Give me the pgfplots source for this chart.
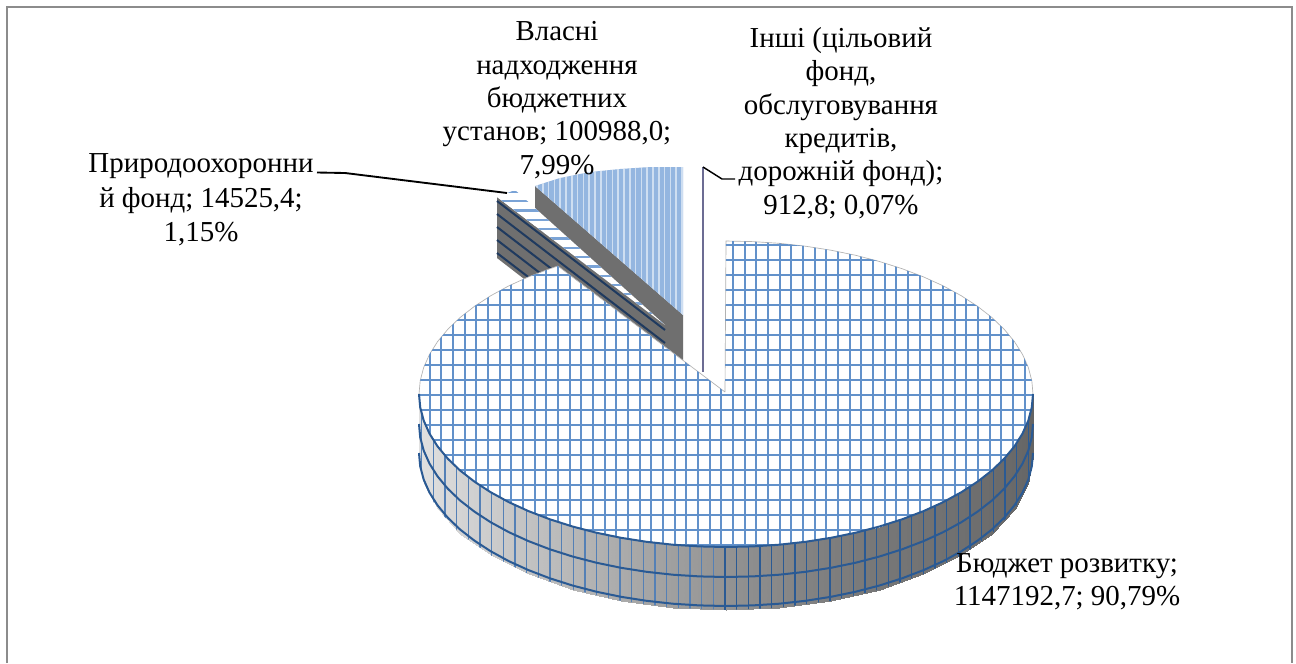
\documentclass[border=0pt]{standalone}
\usepackage{fontspec}
\setmainfont{Liberation Serif}
\usepackage{pgfplots}
\usepackage{pgfplotstable}
\pgfplotsset{compat=1.18}
\definecolor{gridblue}{HTML}{6291CA}
\definecolor{barblue}{HTML}{7AA3D6}
\definecolor{wallblue}{HTML}{2A5A94}
\definecolor{wallsoft}{HTML}{5480B6}
\definecolor{walldark}{HTML}{6F6F6F}
\definecolor{linedark}{HTML}{1F3A5F}
\definecolor{pale}{HTML}{94B6E0}
\definecolor{framegray}{HTML}{8C8C8C}
\tikzset{lab/.style={font=\fontsize{21.7bp}{25bp}\selectfont, align=center, inner sep=0pt, text=black}}
\pgfplotsset{clipped/.style={execute at begin plot visualization={\scope #1}, execute at end plot visualization={\endscope}}}

% outlines used to clip the hatching
\newcommand\cliptop{\clip (725,392) -- (726,241) -- (752.8,241.6) -- (779.3,243.3) -- (805.5,246.2) -- (831,250.2) -- (855.7,255.3) -- (879.5,261.5) -- (902.1,268.7) -- (923.3,276.8) -- (943.1,285.8) -- (961.2,295.7) -- (977.5,306.3) -- (991.9,317.5) -- (1004.2,329.3) -- (1014.5,341.7) -- (1022.5,354.4) -- (1028.3,367.4) -- (1031.8,380.7) -- (1033,394) -- (1031.8,407.3) -- (1028.3,420.6) -- (1022.5,433.6) -- (1014.5,446.3) -- (1004.2,458.7) -- (991.9,470.5) -- (977.5,481.7) -- (961.2,492.3) -- (943.1,502.2) -- (923.3,511.2) -- (902.1,519.3) -- (879.5,526.5) -- (855.7,532.7) -- (831,537.8) -- (805.5,541.8) -- (779.3,544.7) -- (752.8,546.4) -- (726,547) -- (699.2,546.4) -- (672.7,544.7) -- (646.5,541.8) -- (621,537.8) -- (596.3,532.7) -- (572.5,526.5) -- (549.9,519.3) -- (528.7,511.2) -- (508.9,502.2) -- (490.8,492.3) -- (474.5,481.7) -- (460.1,470.5) -- (447.8,458.7) -- (437.5,446.3) -- (429.5,433.6) -- (423.7,420.6) -- (420.2,407.3) -- (419,394) -- (420.2,380.7) -- (423.7,367.4) -- (429.5,354.4) -- (437.5,341.7) -- (447.8,329.3) -- (460.1,317.5) -- (474.5,306.3) -- (490.8,295.7) -- (508.9,285.8) -- (528.7,276.8) -- (549.9,268.7) -- (557.8,266) -- cycle;}
\newcommand\clipwall{\clip (1033,394) -- (1028.3,420.6) -- (1014.5,446.3) -- (991.9,470.5) -- (961.2,492.3) -- (923.3,511.2) -- (879.5,526.5) -- (831,537.8) -- (779.3,544.7) -- (726,547) -- (672.7,544.7) -- (621,537.8) -- (572.5,526.5) -- (528.7,511.2) -- (490.8,492.3) -- (460.1,470.5) -- (437.5,446.3) -- (423.7,420.6) -- (419,394) -- (419,457) -- (423.7,483.6) -- (437.5,509.3) -- (460.1,533.5) -- (490.8,555.3) -- (528.7,574.2) -- (572.5,589.5) -- (621,600.8) -- (672.7,607.7) -- (726,610) -- (779.3,607.7) -- (831,600.8) -- (879.5,589.5) -- (923.3,574.2) -- (961.2,555.3) -- (991.9,533.5) -- (1014.5,509.3) -- (1028.3,483.6) -- (1033,457) -- cycle;}
\newcommand\clippale{\clip (535,186) -- (560,178) -- (590,172) -- (620,169) -- (650,167) -- (683,167) -- (683,315) -- cycle;}
\newcommand\clipbars{\clip (497,197) -- (515,190) -- (665,325) -- cycle;}

% main slice, top face
\pgfplotstableread{
x y
725 392
726 241
752.8 241.6
779.3 243.3
805.5 246.2
831 250.2
855.7 255.3
879.5 261.5
902.1 268.7
923.3 276.8
943.1 285.8
961.2 295.7
977.5 306.3
991.9 317.5
1004.2 329.3
1014.5 341.7
1022.5 354.4
1028.3 367.4
1031.8 380.7
1033 394
1031.8 407.3
1028.3 420.6
1022.5 433.6
1014.5 446.3
1004.2 458.7
991.9 470.5
977.5 481.7
961.2 492.3
943.1 502.2
923.3 511.2
902.1 519.3
879.5 526.5
855.7 532.7
831 537.8
805.5 541.8
779.3 544.7
752.8 546.4
726 547
699.2 546.4
672.7 544.7
646.5 541.8
621 537.8
596.3 532.7
572.5 526.5
549.9 519.3
528.7 511.2
508.9 502.2
490.8 492.3
474.5 481.7
460.1 470.5
447.8 458.7
437.5 446.3
429.5 433.6
423.7 420.6
420.2 407.3
419 394
420.2 380.7
423.7 367.4
429.5 354.4
437.5 341.7
447.8 329.3
460.1 317.5
474.5 306.3
490.8 295.7
508.9 285.8
528.7 276.8
549.9 268.7
557.8 266
725 392
}\maintop

% rim of the main slice: top edge, two bent lines
\pgfplotstableread{
x top mid low
1033 394 424 453
1031.8 407.3 437.3 466.3
1028.3 420.6 450.6 479.6
1022.5 433.6 463.6 492.6
1014.5 446.3 476.3 505.3
1004.2 458.7 488.7 517.7
991.9 470.5 500.5 529.5
977.5 481.7 511.7 540.7
961.2 492.3 522.3 551.3
943.1 502.2 532.2 561.2
923.3 511.2 541.2 570.2
902.1 519.3 549.3 578.3
879.5 526.5 556.5 585.5
855.7 532.7 562.7 591.7
831 537.8 567.8 596.8
805.5 541.8 571.8 600.8
779.3 544.7 574.7 603.7
752.8 546.4 576.4 605.4
726 547 577 606
699.2 546.4 576.4 605.4
672.7 544.7 574.7 603.7
646.5 541.8 571.8 600.8
621 537.8 567.8 596.8
596.3 532.7 562.7 591.7
572.5 526.5 556.5 585.5
549.9 519.3 549.3 578.3
528.7 511.2 541.2 570.2
508.9 502.2 532.2 561.2
490.8 492.3 522.3 551.3
474.5 481.7 511.7 540.7
460.1 470.5 500.5 529.5
447.8 458.7 488.7 517.7
437.5 446.3 476.3 505.3
429.5 433.6 463.6 492.6
423.7 420.6 450.6 479.6
420.2 407.3 437.3 466.3
419 394 424 453
}\rim

\begin{document}
\begin{tikzpicture}
\begin{axis}[
  width=972bp, height=497.25bp, scale only axis,
  xmin=0, xmax=1296, ymin=0, ymax=663, y dir=reverse,
  hide axis, clip=false,
  colormap={greys}{rgb255(0cm)=(0,0,0); rgb255(1cm)=(255,255,255)},
  point meta min=0, point meta max=255,
  every axis plot/.append style={forget plot},
]
% page background and frame
\addplot[fill=white, draw=none] coordinates {(0,0) (1296,0) (1296,663) (0,663) (0,0)};
\addplot[draw=framegray, line width=1.5bp] coordinates {(7,663) (7,7) (1292,7) (1292,663)};

% own revenues slice
\addplot[fill=walldark, draw=none] coordinates {(535,186) (683,315) (683,378) (535,249) (535,186)};
\addplot[fill=pale, draw=none] coordinates {(535,186) (560,178) (590,172) (620,169) (650,167) (683,167) (683,315) (535,186)};
\addplot[ycomb, draw=white, opacity=0.55, line width=1.1bp, clipped=\clippale] coordinates {
(537,330) (542.8,330) (548.6,330) (554.4,330) (560.2,330) (566,330) (571.8,330) (577.6,330) (583.4,330) (589.2,330) (595,330) (600.8,330) (606.6,330) (612.4,330) (618.2,330) (624,330) (629.8,330) (635.6,330) (641.4,330) (647.2,330) (653,330) (658.8,330) (664.6,330) (670.4,330) (676.2,330) (682,330)};

% nature fund slice
\addplot[fill=walldark, draw=none] coordinates {(497,197) (665,325) (665,388) (497,258) (497,197)};
\addplot[draw=linedark, line width=1.5bp] coordinates {(497,201) (665,330)};
\addplot[draw=linedark, line width=1.5bp] coordinates {(497,214) (665,343)};
\addplot[draw=linedark, line width=1.5bp] coordinates {(497,227) (665,356)};
\addplot[draw=linedark, line width=1.5bp] coordinates {(497,240) (665,369)};
\addplot[draw=linedark, line width=1.5bp] coordinates {(497,253) (665,382)};
\addplot[fill=white, draw=none] coordinates {(497,197) (515,190) (665,325) (497,197)};
\addplot[xcomb, draw=barblue, line width=1.7bp, clipped=\clipbars] coordinates {
(700,192) (700,201.3) (700,210.6) (700,219.9) (700,229.2) (700,238.5) (700,247.8) (700,257.1) (700,266.4) (700,275.7) (700,285) (700,294.3) (700,303.6) (700,312.9) (700,322.2)};

% other slice, almost nothing
\addplot[draw=gray!85!blue, line width=1.2bp] coordinates {(703,167) (703,372)};

% main slice rim
\addplot[surf, shader=interp, mesh/rows=2, point meta=explicit] table[meta=g] {
x y g
1033 394 100
1028.3 420.6 102
1014.5 446.3 105
991.9 470.5 108
961.2 492.3 112
923.3 511.2 115
879.5 526.5 119
831 537.8 126
779.3 544.7 136
726 547 147
672.7 544.7 159
621 537.8 171
572.5 526.5 183
528.7 511.2 194
490.8 492.3 204
460.1 470.5 212
437.5 446.3 219
423.7 420.6 223
419 394 225
1033 457 100
1028.3 483.6 102
1014.5 509.3 105
991.9 533.5 108
961.2 555.3 112
923.3 574.2 115
879.5 589.5 119
831 600.8 126
779.3 607.7 136
726 610 147
672.7 607.7 159
621 600.8 171
572.5 589.5 183
528.7 574.2 194
490.8 555.3 204
460.1 533.5 212
437.5 509.3 219
423.7 483.6 223
419 457 225
};
\addplot[ycomb, draw=wallsoft, line width=1.2bp, clipped=\clipwall] coordinates {
(421.67,620) (433.33,620) (445,620) (456.67,620) (468.33,620) (480,620) (491.67,620) (503.33,620) (515,620) (526.67,620) (538.33,620) (550,620) (561.67,620) (573.33,620) (585,620) (596.67,620) (608.33,620) (620,620) (631.67,620) (643.33,620) (655,620) (666.67,620) (678.33,620) (690,620) (701.67,620) (713.33,620)};
\addplot[ycomb, draw=wallblue, line width=1.2bp, clipped=\clipwall] coordinates {
(725,620) (736.67,620) (748.33,620) (760,620) (771.67,620) (783.33,620) (795,620) (806.67,620) (818.33,620) (830,620) (841.67,620) (853.33,620) (865,620) (876.67,620) (888.33,620) (900,620) (911.67,620) (923.33,620) (935,620) (946.67,620) (958.33,620) (970,620) (981.67,620) (993.33,620) (1005,620) (1016.67,620) (1028.33,620)};
\addplot[draw=wallblue, line width=1.5bp] table[x=x, y=mid] {\rim};
\addplot[draw=wallblue, line width=1.5bp] table[x=x, y=low] {\rim};

% main slice, top face
\addplot[fill=white, draw=gray!60, line width=0.5bp] table[x=x, y=y] {\maintop};
\addplot[ycomb, draw=gridblue, line width=1.4bp, clipped=\cliptop] coordinates {
(418,560) (429.67,560) (441.33,560) (453,560) (464.67,560) (476.33,560) (488,560) (499.67,560) (511.33,560) (523,560) (534.67,560) (546.33,560) (558,560) (569.67,560) (581.33,560) (593,560) (604.67,560) (616.33,560) (628,560) (639.67,560) (651.33,560) (663,560) (674.67,560) (686.33,560) (698,560) (709.67,560) (721.33,560) (733,560) (744.67,560) (756.33,560) (768,560) (779.67,560) (791.33,560) (803,560) (814.67,560) (826.33,560) (838,560) (849.67,560) (861.33,560) (873,560) (884.67,560) (896.33,560) (908,560) (919.67,560) (931.33,560) (943,560) (954.67,560) (966.33,560) (978,560) (989.67,560) (1001.33,560) (1013,560) (1024.67,560) (1036.33,560)};
\addplot[xcomb, draw=gridblue, line width=1.4bp, clipped=\cliptop] coordinates {
(1100,245) (1100,260) (1100,275) (1100,290) (1100,305) (1100,320) (1100,335) (1100,350) (1100,365) (1100,380) (1100,395) (1100,410) (1100,425) (1100,440) (1100,455) (1100,470) (1100,485) (1100,500) (1100,515) (1100,530) (1100,545)};
\addplot[draw=wallblue, line width=1.5bp] table[x=x, y=top] {\rim};

% leaders
\addplot[draw=black, line width=1.4bp] coordinates {(317,172.5) (345,173) (507,193)};
\addplot[draw=black, line width=1.1bp] coordinates {(703,167) (722,179) (735,179)};

% labels
\node[lab] at (axis cs:557,100) {Власні\\надходження\\бюджетних\\установ; 100988,0;\\7,99\%};
\node[lab] at (axis cs:841,123) {Інші (цільовий\\фонд,\\обслуговування\\кредитів,\\дорожній фонд);\\912,8; 0,07\%};
\node[lab] at (axis cs:201,200) {Природоохоронни\\[1bp]й фонд; 14525,4;\\[1bp]1,15\%};
\node[lab] at (axis cs:1067,582) {Бюджет розвитку;\\1147192,7; 90,79\%};
\end{axis}
\end{tikzpicture}
\end{document}
